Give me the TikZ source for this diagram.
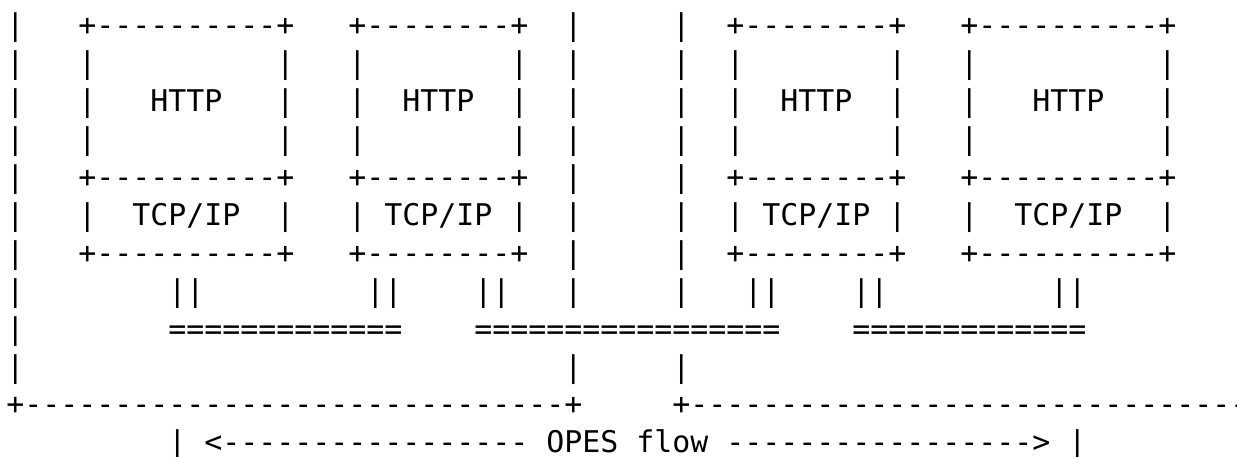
\documentclass[tikz,border=0pt]{standalone}
\usepackage{fontspec}
\setmonofont{DejaVu Sans Mono}
\ExplSyntaxOn
\NewDocumentCommand\rep{mm}{\prg_replicate:nn{#1}{#2}}
\ExplSyntaxOff
\newcommand\SP[1]{\rep{#1}{~}}
\newcommand\DA[1]{\rep{#1}{-}}
\newcommand\EQ[1]{\rep{#1}{=}}
\newcommand\rowedge{|\SP{3}+\DA{10}+\SP{3}+\DA{8}+\SP{2}|\SP{5}|\SP{2}+\DA{8}+\SP{3}+\DA{10}+}
\newcommand\rowside{|\SP{3}|\SP{10}|\SP{3}|\SP{8}|\SP{2}|\SP{5}|\SP{2}|\SP{8}|\SP{3}|\SP{10}|}
\tikzset{asc/.style={anchor=base west, inner sep=0pt, outer sep=0pt, text=black,
  font=\fontsize{14.95pt}{18.95pt}\selectfont\ttfamily}}
\begin{document}
\begin{tikzpicture}[x=1pt,y=1pt]
\useasboundingbox (0,0) rectangle (618.5,-228);
\clip (0,0) rectangle (618.5,-228);
\fill[white] (0,0) rectangle (618.5,-228);
\node[asc] (r1) at (3.15,-17.95) {\rowedge};
\node[asc] (r2) at (3.15,-36.90) {\rowside};
\node[asc] (r3) at (3.15,-55.85) {|\SP{3}|\SP{3}HTTP\SP{3}|\SP{3}|\SP{2}HTTP\SP{2}|\SP{2}|\SP{5}|\SP{2}|\SP{2}HTTP\SP{2}|\SP{3}|\SP{3}HTTP\SP{3}|};
\node[asc] (r4) at (3.15,-74.80) {\rowside};
\node[asc] (r5) at (3.15,-93.75) {\rowedge};
\node[asc] (r6) at (3.15,-112.70) {|\SP{3}|\SP{2}TCP/IP\SP{2}|\SP{3}|\SP{1}TCP/IP\SP{1}|\SP{2}|\SP{5}|\SP{2}|\SP{1}TCP/IP\SP{1}|\SP{3}|\SP{2}TCP/IP\SP{2}|};
\node[asc] (r7) at (3.15,-131.65) {\rowedge};
\node[asc] (r8) at (3.15,-150.60) {|\SP{8}||\SP{9}||\SP{4}||\SP{3}|\SP{5}|\SP{3}||\SP{4}||\SP{9}||};
\node[asc] (r9) at (3.15,-169.55) {|\SP{8}\EQ{13}\SP{4}\EQ{17}\SP{4}\EQ{13}};
\node[asc] (r10) at (3.15,-188.50) {|\SP{30}|\SP{5}|};
\node[asc] (r11) at (3.15,-207.45) {+\DA{30}+\SP{5}+\DA{31}};
\node[asc] (r12) at (3.15,-226.40) {\SP{9}|\SP{1}<\DA{17}\SP{1}OPES flow\SP{1}\DA{17}>\SP{1}|};
\end{tikzpicture}
\end{document}
